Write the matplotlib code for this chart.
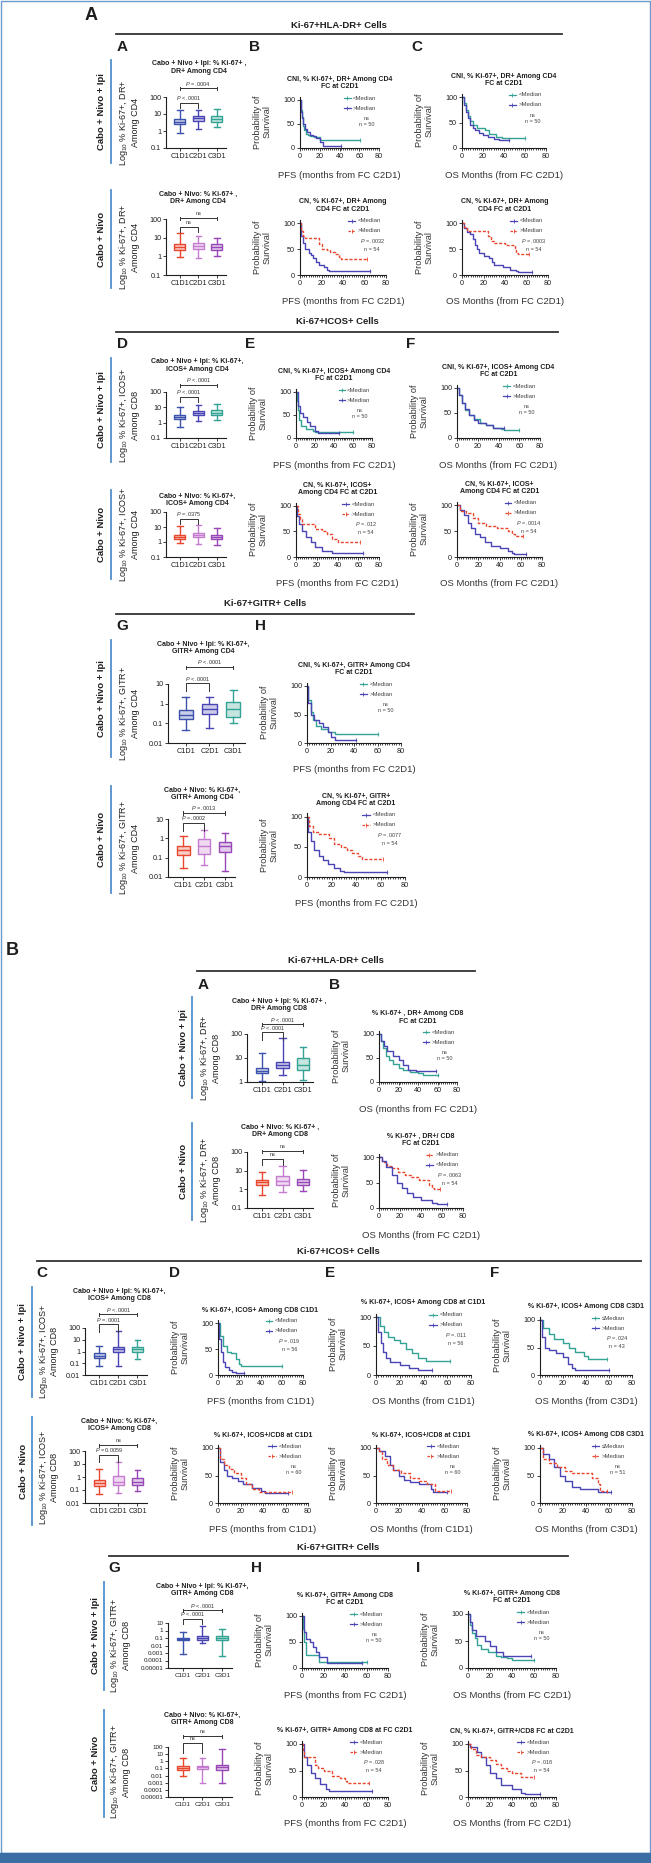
import numpy as np
import matplotlib
matplotlib.use('Agg')
import matplotlib.pyplot as plt
from matplotlib.lines import Line2D
from matplotlib.patches import Rectangle
from matplotlib.ticker import NullLocator, MultipleLocator
from matplotlib.colors import to_rgb

W, H = 651, 1863

# ---------------- data ----------------
TIMEPOINTS = ['C1D1', 'C2D1', 'C3D1']

# box plots: (whisker low, q1, median, q3, whisker high) for C1D1, C2D1, C3D1
A_A1_box = [(0.75, 2.5, 3.5, 5.0, 17), (1.3, 4.0, 5.5, 7.5, 18), (1.8, 3.5, 5.0, 7.5, 19)]
A_A2_box = [(0.9, 2.3, 3.3, 4.8, 18), (0.85, 2.5, 3.7, 5.5, 12), (1.0, 2.3, 3.2, 4.5, 9.5)]
A_D1_box = [(0.55, 1.7, 2.3, 3.3, 11), (1.2, 3.0, 4.2, 6.0, 15), (1.6, 3.2, 4.5, 6.5, 17)]
A_D2_box = [(0.8, 1.7, 2.2, 2.9, 12), (0.7, 2.0, 2.8, 4.0, 14), (0.6, 1.7, 2.2, 3.0, 9)]
A_G1_box = [(0.048, 0.16, 0.28, 0.5, 2.3), (0.06, 0.3, 0.55, 0.95, 2.3), (0.1, 0.22, 0.55, 1.2, 5)]
A_G2_box = [(0.03, 0.14, 0.25, 0.42, 1.4), (0.04, 0.16, 0.42, 0.95, 2.6), (0.02, 0.2, 0.38, 0.65, 2.0)]
B_A1_box = [(1.05, 2.3, 3.0, 3.8, 16), (2.0, 4.0, 5.0, 7.0, 70), (1.2, 3.2, 5.2, 10, 30)]
B_A2_box = [(0.5, 1.8, 2.5, 3.3, 9), (0.75, 1.7, 2.8, 5.5, 18), (0.8, 1.8, 2.5, 3.5, 11)]
B_C1_box = [(0.06, 0.3, 0.45, 0.7, 3.2), (0.06, 1.0, 1.5, 2.2, 60), (0.22, 0.9, 1.5, 2.5, 9.5)]
B_C2_box = [(0.05, 0.22, 0.35, 0.55, 4.5), (0.06, 0.25, 0.4, 1.3, 15), (0.09, 0.25, 0.4, 0.8, 3.3)]
B_G1_box = [(0.0008, 0.06, 0.08, 0.1, 0.7), (0.02, 0.06, 0.1, 0.18, 4), (0.00045, 0.05, 0.1, 0.2, 1.5)]
B_G2_box = [(0.01, 0.07, 0.12, 0.25, 2.5), (0.001, 0.08, 0.15, 0.25, 2.5), (0.0008, 0.07, 0.15, 0.3, 50)]

# Kaplan-Meier steps: (months, % surviving)
A_B1_low = [(0, 100), (1, 80), (2, 65), (3, 45), (4, 38), (6, 30), (8, 27), (10, 25), (14, 22), (20, 17), (61, 17)]
A_B1_high = [(0, 100), (1, 75), (2, 62), (3, 50), (5, 40), (7, 33), (10, 28), (13, 24), (16, 20), (20, 12), (23, 5), (42, 5)]
A_C1_low = [(0, 100), (2, 88), (4, 75), (6, 62), (8, 52), (10, 45), (14, 40), (22, 35), (26, 28), (32, 22), (38, 20), (60, 20)]
A_C1_high = [(0, 100), (2, 85), (4, 70), (6, 58), (8, 45), (10, 40), (12, 35), (16, 30), (20, 25), (25, 22), (30, 18), (35, 16), (45, 16)]
A_B2_low = [(0, 100), (1, 75), (3, 62), (5, 50), (8, 42), (10, 38), (12, 32), (15, 25), (18, 20), (22, 15), (25, 10), (27, 7), (65, 7)]
A_B2_high = [(0, 100), (1, 85), (3, 75), (5, 72), (18, 60), (20, 50), (25, 48), (28, 45), (33, 40), (36, 35), (38, 30), (62, 30)]
A_C2_low = [(0, 100), (2, 90), (5, 82), (7, 78), (10, 70), (12, 58), (14, 50), (16, 42), (20, 36), (25, 33), (28, 25),
            (30, 20), (38, 15), (45, 10), (50, 8), (52, 5), (65, 5)]
A_C2_high = [(0, 100), (2, 93), (5, 85), (24, 75), (27, 65), (30, 62), (40, 58), (49, 50), (50, 42), (52, 40), (62, 40)]
A_E1_low = [(0, 100), (1, 80), (2, 60), (3, 40), (5, 25), (10, 20), (18, 15), (20, 14), (60, 14)]
A_E1_high = [(0, 100), (2, 70), (4, 55), (7, 45), (12, 35), (15, 25), (20, 15), (23, 10), (45, 10)]
A_F1_low = [(0, 100), (2, 85), (5, 70), (8, 55), (12, 45), (16, 38), (22, 30), (28, 25), (35, 20), (42, 18), (45, 15), (60, 15)]
A_F1_high = [(0, 100), (2, 85), (5, 70), (8, 58), (12, 45), (16, 35), (20, 30), (28, 25), (35, 20), (45, 20)]
A_E2_low = [(0, 100), (1, 80), (3, 65), (6, 50), (10, 40), (14, 30), (18, 20), (25, 12), (35, 8), (65, 8)]
A_E2_high = [(0, 100), (2, 85), (4, 75), (6, 65), (18, 55), (25, 50), (30, 45), (35, 35), (40, 30), (62, 30)]
A_F2_low = [(0, 100), (3, 90), (7, 80), (10, 65), (13, 55), (17, 45), (22, 38), (26, 28), (32, 22), (40, 18), (48, 12),
            (52, 8), (54, 5), (65, 5)]
A_F2_high = [(0, 100), (3, 88), (8, 85), (15, 75), (20, 65), (27, 60), (38, 55), (48, 50), (52, 45), (55, 40), (62, 40)]
A_H1_low = [(0, 100), (1, 75), (3, 55), (5, 40), (8, 30), (12, 25), (18, 20), (24, 15), (60, 15)]
A_H1_high = [(0, 100), (1, 70), (3, 50), (6, 40), (10, 35), (14, 28), (18, 20), (20, 10), (24, 5), (42, 5)]
A_H2_low = [(0, 100), (1, 75), (3, 60), (6, 45), (10, 35), (13, 28), (17, 22), (22, 15), (27, 10), (30, 8), (65, 8)]
A_H2_high = [(0, 100), (2, 85), (5, 75), (10, 72), (18, 65), (22, 55), (28, 50), (33, 45), (37, 40), (42, 35), (45, 30), (62, 30)]

B_B1_low = [(0, 100), (2, 85), (4, 70), (7, 55), (10, 45), (14, 38), (20, 30), (25, 25), (32, 20), (40, 18), (45, 15), (60, 15)]
B_B1_high = [(0, 100), (2, 85), (5, 75), (8, 65), (14, 55), (20, 45), (25, 35), (30, 25), (38, 22), (58, 22)]
B_B2_high = [(0, 100), (3, 90), (8, 82), (12, 78), (18, 70), (25, 65), (30, 60), (38, 55), (48, 45), (50, 40), (52, 38), (58, 38)]
B_B2_low = [(0, 100), (3, 92), (7, 80), (12, 65), (17, 50), (22, 40), (27, 30), (32, 22), (40, 15), (50, 10), (55, 7), (65, 7)]
B_D1_low = [(0, 100), (2, 75), (5, 55), (8, 45), (12, 42), (17, 30), (20, 22), (22, 18), (60, 18)]
B_D1_high = [(0, 100), (1, 70), (3, 45), (5, 25), (7, 15), (10, 10), (13, 5), (17, 3), (24, 3)]
B_E1_low = [(0, 100), (3, 85), (7, 75), (10, 65), (15, 60), (20, 55), (25, 45), (30, 38), (35, 30), (42, 25), (62, 25)]
B_E1_high = [(0, 100), (2, 75), (4, 55), (6, 40), (8, 30), (12, 22), (20, 18), (28, 12), (35, 8), (47, 8)]
B_F1_low = [(0, 100), (3, 85), (8, 75), (12, 65), (20, 58), (25, 50), (30, 42), (38, 35), (42, 30), (58, 30)]
B_F1_high = [(0, 100), (2, 70), (4, 50), (8, 45), (14, 40), (20, 32), (24, 20), (28, 12), (30, 10), (60, 10)]
B_D2_low = [(0, 100), (2, 75), (5, 60), (8, 50), (12, 45), (18, 40), (22, 35), (30, 28), (38, 22), (42, 18), (62, 18)]
B_D2_high = [(0, 100), (2, 80), (5, 70), (10, 62), (14, 55), (20, 45), (25, 35), (30, 25), (36, 20), (66, 20)]
B_E2_low = [(0, 100), (3, 95), (8, 85), (12, 70), (15, 60), (20, 50), (25, 42), (30, 38), (38, 35), (48, 25), (50, 20), (62, 20)]
B_E2_high = [(0, 100), (3, 95), (5, 80), (10, 70), (15, 60), (22, 55), (30, 45), (38, 40), (45, 35), (52, 22), (66, 22)]
B_F2_low = [(0, 100), (3, 90), (8, 80), (12, 65), (17, 50), (22, 40), (28, 30), (35, 25), (50, 20), (62, 20)]
B_F2_high = [(0, 100), (3, 80), (8, 72), (15, 65), (22, 58), (28, 55), (45, 45), (50, 35), (52, 22), (58, 22)]
B_H1_low = [(0, 100), (1, 75), (2, 50), (4, 25), (16, 12), (60, 12)]
B_H1_high = [(0, 100), (2, 70), (4, 55), (7, 50), (10, 40), (13, 30), (16, 22), (23, 10), (56, 10)]
B_I1_low = [(0, 100), (2, 80), (4, 65), (6, 55), (8, 42), (12, 35), (18, 30), (25, 22), (30, 20), (35, 18), (40, 15), (60, 15)]
B_I1_high = [(0, 100), (2, 85), (4, 70), (7, 60), (15, 50), (20, 40), (25, 30), (32, 22), (57, 22)]
B_H2_low = [(0, 100), (2, 75), (5, 60), (8, 45), (12, 35), (17, 25), (22, 15), (25, 12), (65, 12)]
B_H2_high = [(0, 100), (1, 85), (2, 75), (12, 60), (15, 55), (20, 50), (28, 40), (35, 35), (40, 30), (42, 27), (62, 27)]
B_I2_low = [(0, 100), (2, 95), (8, 85), (12, 75), (16, 60), (20, 45), (25, 35), (30, 22), (40, 15), (48, 8), (52, 5), (65, 5)]
B_I2_high = [(0, 100), (3, 90), (7, 80), (12, 75), (20, 70), (25, 62), (30, 55), (35, 50), (40, 45), (48, 38), (60, 38)]

# ---------------- style ----------------
TEAL = '#33a394'
BLUE = '#4a45b5'
NAVY = '#3c52ad'
RED = '#e8472e'
PINK = '#c57bd0'
PURPLE = '#9847b7'
SIDE = '#4f90cc'
INK = '#1e1e1e'
IPI = [NAVY, BLUE, TEAL]
NIVO = [RED, PINK, PURPLE]

SANS = 'Liberation Sans'
plt.rcParams['font.family'] = [SANS, 'DejaVu Sans']
plt.rcParams['mathtext.fontset'] = 'custom'
plt.rcParams['mathtext.rm'] = SANS
plt.rcParams['mathtext.it'] = SANS + ':italic'
plt.rcParams['mathtext.bf'] = SANS + ':bold'

fig = plt.figure(figsize=(W / 100, H / 100), dpi=100)


def T(x, y, s, size, weight='normal', ha='center', va='center', rot=0, color=INK, ls=1.15):
    fig.text(x / W, 1 - y / H, s, fontsize=size, family=[SANS, 'DejaVu Sans'], fontweight=weight,
             ha=ha, va=va, rotation=rot, color=color, linespacing=ls, multialignment='center')


def L(xs, ys, color=INK, lw=1.0, **kw):
    fig.add_artist(Line2D([x / W for x in xs], [1 - y / H for y in ys], color=color, lw=lw,
                          transform=fig.transFigure, **kw))


def tint(c, f=0.72):
    r, g, b = to_rgb(c)
    return (r + (1 - r) * f, g + (1 - g) * f, b + (1 - b) * f)


def style_axes(ax, size=5.2):
    for s in ('top', 'right'):
        ax.spines[s].set_visible(False)
    for s in ('left', 'bottom'):
        ax.spines[s].set_linewidth(0.8)
        ax.spines[s].set_color(INK)
    ax.tick_params(length=2, width=0.6, pad=1.5, labelsize=size, colors=INK)
    ax.patch.set_alpha(0)


def header(title, tx, ty, lx0, lx1, ly, letters, lety):
    T(tx, ty, title, 6.8, weight='bold')
    L([lx0, lx1], [ly, ly], color='#333333', lw=1.3)
    for lab, lx in letters:
        T(lx, lety, lab, 11, weight='bold')


def side(xl, xt, ya, yb, label):
    L([xl, xl], [ya, yb], color=SIDE, lw=1.3)
    T(xt, (ya + yb) / 2, label, 6.8, weight='bold', rot=90)


def box_panel(x0, x1, yt, yb, ylim, yticks, ylabels, data, colors, title, tx, ty, ylab, ylab_x, brackets, tsize=5.2):
    ax = fig.add_axes([x0 / W, 1 - yb / H, (x1 - x0) / W, (yb - yt) / H])
    stats = [dict(whislo=d[0], q1=d[1], med=d[2], q3=d[3], whishi=d[4], fliers=[]) for d in data]
    art = ax.bxp(stats, positions=[1, 2, 3], widths=0.6, patch_artist=True, showfliers=False)
    for i, c in enumerate(colors):
        art['boxes'][i].set(facecolor=tint(c), edgecolor=c, lw=1.0)
        art['medians'][i].set(color=c, lw=1.0)
        for k in (2 * i, 2 * i + 1):
            art['whiskers'][k].set(color=c, lw=1.0)
            art['caps'][k].set(color=c, lw=1.0)
    ax.set_yscale('log')
    ax.set_ylim(*ylim)
    ax.set_yticks(yticks)
    ax.set_yticklabels(ylabels)
    ax.yaxis.set_minor_locator(NullLocator())
    ax.set_xlim(0.25, 3.5)
    ax.set_xticks([1, 2, 3])
    ax.set_xticklabels(TIMEPOINTS)
    style_axes(ax, tsize)
    T(tx, ty, title, 5, weight='bold', ls=1.05)
    T(ylab_x, (yt + yb) / 2, ylab, 6.5, rot=90, ls=1.05)
    for a, b, yl, drop, lab in brackets:
        xa = x0 + (a - 0.25) / 3.25 * (x1 - x0)
        xb = x0 + (b - 0.25) / 3.25 * (x1 - x0)
        if drop:
            L([xa, xa, xb, xb], [yl + drop, yl, yl, yl + drop], color='#333333', lw=0.7)
        else:
            L([xa, xb], [yl, yl], color='#333333', lw=0.7)
            L([xa, xa], [yl - 1.5, yl + 1.5], color='#333333', lw=0.7)
            L([xb, xb], [yl - 1.5, yl + 1.5], color='#333333', lw=0.7)
        T((xa + xb) / 2, yl - 4.5, lab, 4.0, color='#333333')


def km_panel(x0, x1, y100, y0, curves, title, ty, legend, stat, xlab):
    ax = fig.add_axes([x0 / W, 1 - y0 / H, (x1 - x0) / W, (y0 - y100) * 1.06 / H])
    for pts, c, dashed in curves:
        t = [p[0] for p in pts]
        s = [p[1] for p in pts]
        ax.step(t, s, where='post', color=c, lw=1.0, ls=(0, (2.2, 1.2)) if dashed else '-', clip_on=False)
        ax.plot(t[-1], s[-1], marker='|', color=c, ms=2.5, mew=0.6, clip_on=False)
    ax.set_xlim(0, 80)
    ax.set_ylim(0, 106)
    ax.set_xticks([0, 20, 40, 60, 80])
    ax.set_yticks([0, 50, 100])
    ax.xaxis.set_minor_locator(MultipleLocator(2))
    ax.tick_params(axis='x', which='minor', length=1.2, width=0.5)
    style_axes(ax, 5.2)
    w = x1 - x0
    T((x0 + x1) / 2, ty, title, 5, weight='bold', ls=1.05)
    for i, (lab, c, dashed) in enumerate(legend):
        yy = y100 - 2 + 10 * i
        L([x0 + 0.56 * w, x0 + 0.64 * w], [yy, yy], color=c, lw=0.9, ls=(0, (2, 1)) if dashed else '-')
        L([x0 + 0.60 * w], [yy], color=c, lw=0, marker='|', ms=2.2, mew=0.6)
        T(x0 + 0.67 * w, yy, lab, 4.3, ha='left', color='#444444')
    T(x0 + 0.84 * w, y100 + 21.5, stat, 4.0, color='#444444', ls=1.3)
    T(x0 - 38, (y100 + y0) / 2 - 2, 'Probability of\nSurvival', 6.6, rot=90, ls=1.05, color='#333333')
    T((x0 + x1) / 2, y0 + 27, xlab, 6.8, color='#333333')


DEC4 = ([0.1, 1, 10, 100], ['0.1', '1', '10', '100'])
LOG_CD4 = 'Log$_{10}$ % Ki-67+, DR+\nAmong CD4'
PFS = 'PFS (months from FC C2D1)'
OSM = 'OS Months (from FC C2D1)'
LEG_T = [('<Median', TEAL, False), ('>Median', BLUE, False)]
LEG_R = [('<Median', BLUE, False), ('>Median', RED, True)]

# ---------------- section A ----------------
T(91, 15, 'A', 13, weight='bold')
header('Ki-67+HLA-DR+ Cells', 339, 25, 116, 562, 34, [('A', 122), ('B', 254), ('C', 417)], 47)

side(111, 102, 60, 163, 'Cabo + Nivo + Ipi')
box_panel(166, 226, 97, 148, (0.1, 100), *DEC4, A_A1_box, IPI, 'Cabo + Nivo + Ipi: % Ki-67+ ,\nDR+ Among CD4',
          199, 67.5, LOG_CD4, 128.5, [(1, 3, 88, 0, '$P$ = .0004'), (1, 2, 103, 5, '$P$ < .0001')])
km_panel(300, 379, 100, 148, [(A_B1_low, TEAL, False), (A_B1_high, BLUE, False)],
         'CNI, % Ki-67+, DR+ Among CD4\nFC at C2D1', 83, LEG_T, 'ns\nn = 50', PFS)
km_panel(462, 546, 97, 148, [(A_C1_low, TEAL, False), (A_C1_high, BLUE, False)],
         'CNI, % Ki-67+, DR+ Among CD4\nFC at C2D1', 80, LEG_T, 'ns\nn = 50', OSM)

side(111, 102, 190, 288, 'Cabo + Nivo')
box_panel(166, 226, 219, 275, (0.1, 100), *DEC4, A_A2_box, NIVO, 'Cabo + Nivo: % Ki-67+ ,\nDR+ Among CD4',
          198, 197.5, LOG_CD4, 128.5, [(1, 3, 218, 0, 'ns'), (1, 2, 227, 5, 'ns')])
km_panel(300, 386, 223, 275, [(A_B2_low, BLUE, False), (A_B2_high, RED, True)],
         'CN, % Ki-67+, DR+ Among\nCD4 FC at C2D1', 205.5, LEG_R, '$P$ = .0032\nn = 54', PFS)
km_panel(462, 548, 223, 275, [(A_C2_low, BLUE, False), (A_C2_high, RED, True)],
         'CN, % Ki-67+, DR+ Among\nCD4 FC at C2D1', 205.5, LEG_R, '$P$ = .0003\nn = 54', OSM)

header('Ki-67+ICOS+ Cells', 337, 322, 116, 558, 332, [('D', 122), ('E', 250), ('F', 411)], 344)

side(111, 102, 358, 462, 'Cabo + Nivo + Ipi')
box_panel(166, 226, 392, 438, (0.1, 100), *DEC4, A_D1_box, IPI, 'Cabo + Nivo + Ipi: % Ki-67+,\nICOS+ Among CD4',
          197, 365.5, 'Log$_{10}$ % Ki-67+, ICOS+\nAmong CD8', 128.5,
          [(1, 3, 385, 0, '$P$ < .0001'), (1, 2, 397, 5, '$P$ < .0001')])
km_panel(296, 372, 392, 438, [(A_E1_low, TEAL, False), (A_E1_high, BLUE, False)],
         'CNI, % Ki-67+, ICOS+ Among CD4\nFC at C2D1', 375, LEG_T, 'ns\nn = 50', PFS)
km_panel(457, 540, 388, 438, [(A_F1_low, TEAL, False), (A_F1_high, BLUE, False)],
         'CNI, % Ki-67+, ICOS+ Among CD4\nFC at C2D1', 371, LEG_T, 'ns\nn = 50', OSM)

side(111, 102, 490, 579, 'Cabo + Nivo')
box_panel(166, 226, 512, 557, (0.1, 100), *DEC4, A_D2_box, NIVO, 'Cabo + Nivo: % Ki-67+,\nICOS+ Among CD4',
          197, 500, 'Log$_{10}$ % Ki-67+, ICOS+\nAmong CD4', 128.5, [(1, 2, 519, 5, '$P$ = .0375')])
km_panel(296, 379, 506, 557, [(A_E2_low, BLUE, False), (A_E2_high, RED, True)],
         'CN, % Ki-67+, ICOS+\nAmong CD4 FC at C2D1', 489, LEG_R, '$P$ = .012\nn = 54', PFS)
km_panel(457, 542, 505, 557, [(A_F2_low, BLUE, False), (A_F2_high, RED, True)],
         'CN, % Ki-67+, ICOS+\nAmong CD4 FC at C2D1', 487.5, LEG_R, '$P$ = .0014\nn = 54', OSM)

header('Ki-67+GITR+ Cells', 265, 604, 116, 414, 614, [('G', 122), ('H', 261)], 626)
DEC3 = ([0.01, 0.1, 1, 10], ['0.01', '0.1', '1', '10'])
LOG_G4 = 'Log$_{10}$ % Ki-67+, GITR+\nAmong CD4'

side(111, 102, 640, 757, 'Cabo + Nivo + Ipi')
box_panel(168, 245, 684, 743, (0.01, 10), *DEC3, A_G1_box, IPI, 'Cabo + Nivo + Ipi: % Ki-67+,\nGITR+ Among CD4',
          203, 648, LOG_G4, 128.5, [(1, 3, 667, 0, '$P$ < .0001'), (1, 2, 683, 8, '$P$ < .0001')])
km_panel(307, 401, 686, 743, [(A_H1_low, TEAL, False), (A_H1_high, BLUE, False)],
         'CNI, % Ki-67+, GITR+ Among CD4\nFC at C2D1', 669, LEG_T, 'ns\nn = 50', PFS)

side(111, 102, 786, 893, 'Cabo + Nivo')
box_panel(168, 235, 819, 877, (0.01, 10), *DEC3, A_G2_box, NIVO, 'Cabo + Nivo: % Ki-67+,\nGITR+ Among CD4',
          202, 793.5, LOG_G4, 128.5, [(1, 3, 813, 0, '$P$ = .0013'), (1, 2, 823, 8, '$P$ = .0002')])
km_panel(307, 405, 817, 877, [(A_H2_low, BLUE, False), (A_H2_high, RED, True)],
         'CN, % Ki-67+, GITR+\nAmong CD4 FC at C2D1', 799.5, LEG_R, '$P$ = .0077\nn = 54', PFS)

# ---------------- section B ----------------
T(12, 950, 'B', 13, weight='bold')
header('Ki-67+HLA-DR+ Cells', 336, 961, 197, 475, 971, [('A', 203), ('B', 334)], 985)
LOG_DR8 = 'Log$_{10}$ % Ki-67+, DR+\nAmong CD8'

side(192, 183, 997, 1098, 'Cabo + Nivo + Ipi')
box_panel(247, 313, 1034, 1082, (1, 100), [1, 10, 100], ['1', '10', '100'], B_A1_box, IPI,
          'Cabo + Nivo + Ipi: % Ki-67+ ,\nDR+ Among CD8', 279, 1005, LOG_DR8, 209.5,
          [(1, 3, 1024, 0, '$P$ < .0001'), (1, 2, 1032, 8, '$P$ < .0001')])
km_panel(379, 457, 1034, 1082, [(B_B1_low, TEAL, False), (B_B1_high, BLUE, False)],
         '% Ki-67+ , DR+ Among CD8\nFC at C2D1', 1017.5, LEG_T, 'ns\nn = 50', 'OS (months from FC C2D1)')

side(192, 183, 1123, 1220, 'Cabo + Nivo')
box_panel(247, 313, 1152, 1208, (0.1, 100), *DEC4, B_A2_box, NIVO, 'Cabo + Nivo: % Ki-67+ ,\nDR+ Among CD8',
          280, 1131, LOG_DR8, 209.5, [(1, 3, 1151, 0, 'ns'), (1, 2, 1159, 6, 'ns')])
km_panel(379, 463, 1157, 1208, [(B_B2_high, RED, True), (B_B2_low, BLUE, False)],
         '% Ki-67+ , DR+/ CD8\nFC at C2D1', 1140, [('>Median', RED, True), ('<Median', BLUE, False)],
         '$P$ = .0063\nn = 54', OSM)

header('Ki-67+ICOS+ Cells', 338, 1251, 37, 641, 1261, [('C', 42), ('D', 174), ('E', 330), ('F', 495)], 1273)
DEC5 = ([0.01, 0.1, 1, 10, 100], ['0.01', '0.1', '1', '10', '100'])
LOG_IC8 = 'Log$_{10}$ % Ki-67+, ICOS+\nAmong CD8'

side(32, 23, 1287, 1397, 'Cabo + Nivo + Ipi')
box_panel(85, 147, 1328, 1375, (0.01, 100), *DEC5, B_C1_box, IPI, 'Cabo + Nivo + Ipi: % Ki-67+,\nICOS+ Among CD8',
          119, 1295, LOG_IC8, 48, [(1, 3, 1314, 0, '$P$ < .0001'), (1, 2, 1324, 8, '$P$ = .0001')])
km_panel(218, 303, 1323, 1375, [(B_D1_low, TEAL, False), (B_D1_high, BLUE, False)],
         '% Ki-67+, ICOS+ Among CD8 C1D1', 1311, LEG_T, '$P$ = .019\nn = 56', 'PFS (months from C1D1)')
km_panel(376, 471, 1317, 1375, [(B_E1_low, TEAL, False), (B_E1_high, BLUE, False)],
         '% Ki-67+, ICOS+ Among CD8 at C1D1', 1303, LEG_T, '$P$ = .011\nn = 56', 'OS Months (from C1D1)')
km_panel(540, 632, 1320, 1375, [(B_F1_low, TEAL, False), (B_F1_high, BLUE, False)],
         '% Ki-67+, ICOS+ Among CD8 C3D1', 1307, [('\u2264Median', TEAL, False), ('>Median', BLUE, False)],
         '$P$ = .024\nn = 43', 'OS Months (from C3D1)')

side(32, 23, 1417, 1525, 'Cabo + Nivo')
box_panel(85, 147, 1451, 1503, (0.01, 100), *DEC5, B_C2_box, NIVO, 'Cabo + Nivo: % Ki-67+,\nICOS+ Among CD8',
          119, 1424.5, LOG_IC8, 48, [(1, 3, 1445, 0, 'ns'), (1, 2, 1455, 7, '$P$ = 0.0059')])
km_panel(218, 308, 1448, 1503, [(B_D2_low, BLUE, False), (B_D2_high, RED, True)],
         '% Ki-67+, ICOS+/CD8 at C1D1', 1435, LEG_R, 'ns\nn = 60', 'PFS (months from C1D1)')
km_panel(376, 467, 1448, 1503, [(B_E2_low, BLUE, False), (B_E2_high, RED, True)],
         '% Ki-67+, ICOS+/CD8 at C1D1', 1435, LEG_R, 'ns\nn = 60', 'OS Months (from C1D1)')
km_panel(540, 632, 1448, 1503, [(B_F2_low, BLUE, False), (B_F2_high, RED, True)],
         '% Ki-67+, ICOS+ Among CD8 C3D1', 1434, [('\u2264Median', BLUE, False), ('>Median', RED, True)],
         'ns\nn = 51', 'OS Months (from C3D1)')

header('Ki-67+GITR+ Cells', 338, 1547, 109, 568, 1556, [('G', 114), ('H', 257), ('I', 418)], 1568)
LOG_G8 = 'Log$_{10}$ % Ki-67+, GITR+\nAmong CD8'
DEC7 = [1e-5, 1e-4, 1e-3, 1e-2, 0.1, 1, 10]
LAB7 = ['0.00001', '0.0001', '0.001', '0.01', '0.1', '1', '10']

side(104, 95, 1582, 1690, 'Cabo + Nivo + Ipi')
box_panel(168, 232, 1623, 1668, (1e-5, 10), DEC7, LAB7, B_G1_box, IPI, 'Cabo + Nivo + Ipi: % Ki-67+,\nGITR+ Among CD8',
          202, 1590, LOG_G8, 119.5, [(1, 3, 1610, 0, '$P$ < .0001'), (1, 2, 1619, 5, '$P$ < .0001')], tsize=4.5)
km_panel(302, 388, 1616, 1668, [(B_H1_low, TEAL, False), (B_H1_high, BLUE, False)],
         '% Ki-67+, GITR+ Among CD8\nFC at C2D1', 1599, LEG_T, 'ns\nn = 50', PFS)
km_panel(468, 556, 1614, 1668, [(B_I1_low, TEAL, False), (B_I1_high, BLUE, False)],
         '% Ki-67+, GITR+ Among CD8\nFC at C2D1', 1597, LEG_T, 'ns\nn = 50', OSM)

side(104, 95, 1710, 1817, 'Cabo + Nivo')
box_panel(168, 232, 1747, 1797, (1e-5, 100), DEC7 + [100], LAB7 + ['100'], B_G2_box, NIVO,
          'Cabo + Nivo: % Ki-67+,\nGITR+ Among CD8', 202, 1718.5, LOG_G8, 119.5,
          [(1, 3, 1736, 0, 'ns'), (1, 2, 1743, 10, 'ns')], tsize=4.5)
km_panel(302, 388, 1744, 1797, [(B_H2_low, BLUE, False), (B_H2_high, RED, True)],
         '% Ki-67+, GITR+ Among CD8 at FC C2D1', 1731, LEG_R, '$P$ = .028\nn = 54', PFS)
km_panel(468, 556, 1744, 1797, [(B_I2_low, BLUE, False), (B_I2_high, RED, True)],
         'CN, % Ki-67+, GITR+/CD8 FC at C2D1', 1731, LEG_R, '$P$ = .018\nn = 54', OSM)

# frame and footer bar
L([1, 1, 650, 650, 1], [1853, 1, 1, 1853, 1853], color='#6b9bcd', lw=1.0)
fig.patches.append(Rectangle((0, 0), 1, 10 / H, transform=fig.transFigure, color='#3a6ea5', zorder=5))

fig.savefig('out.png', dpi=100)
